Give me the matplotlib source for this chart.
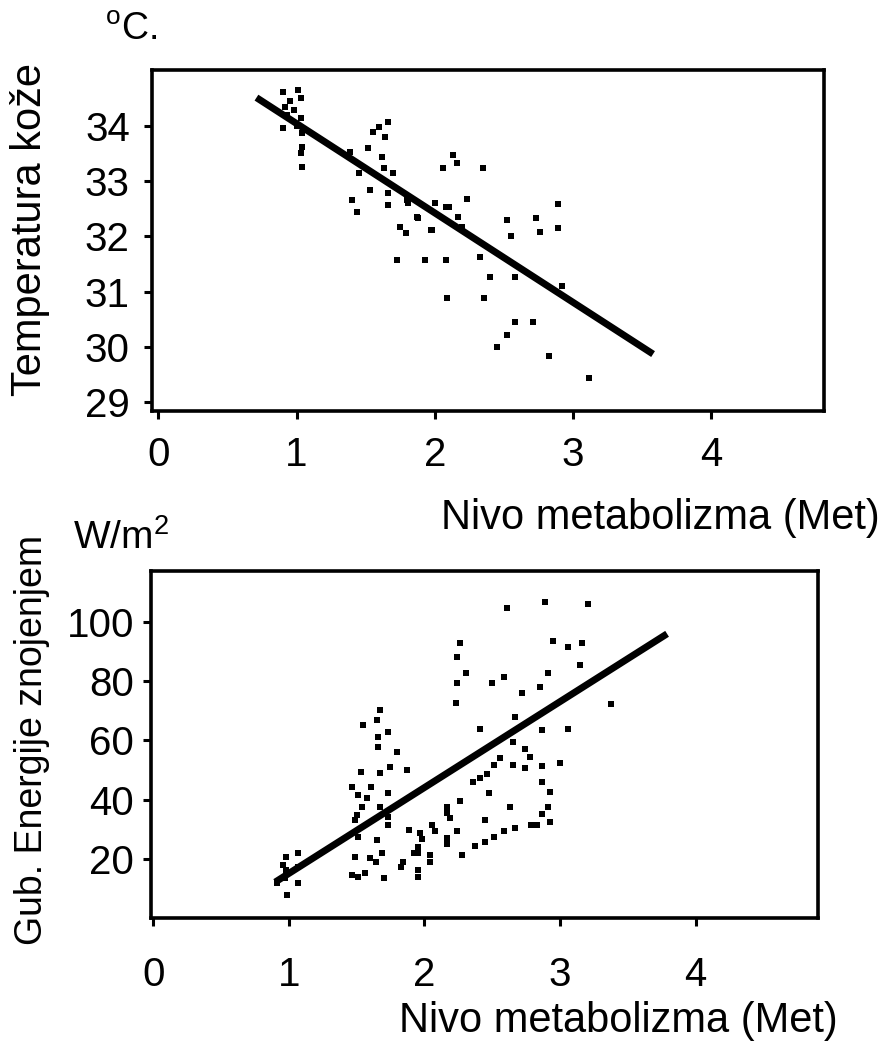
import matplotlib
matplotlib.use("Agg")
import matplotlib.pyplot as plt

plt.rcParams['font.family'] = ['Liberation Sans', 'DejaVu Sans']
plt.rcParams['mathtext.fontset'] = 'custom'
plt.rcParams['mathtext.rm'] = 'Liberation Sans'

# --- top panel: skin temperature vs metabolic rate
temp_met = [0.90, 1.01, 1.03, 0.92, 0.98, 1.03, 0.90, 1.04, 1.04, 1.03, 1.04, 0.95, 0.93, 1.00,
            1.39, 1.52, 1.60, 1.55, 1.66, 1.64, 1.62, 1.63, 1.70, 1.45, 1.53, 1.66, 1.40, 1.44,
            1.66, 1.80, 1.87, 1.75, 1.79, 1.97, 1.73, 1.93,
            2.06, 2.08, 2.09, 2.13, 2.16, 2.35, 2.23, 1.81, 2.00, 2.10, 2.17, 1.88, 1.98, 2.20,
            2.52, 2.55, 2.73, 2.76, 2.89, 2.89, 2.08, 2.33, 2.40, 2.58, 2.92, 2.36, 2.58, 2.71,
            2.52, 2.45, 2.83, 3.12]
temp_skin = [34.62, 34.65, 34.51, 34.34, 34.29, 34.14, 33.96, 33.87, 33.62, 33.51, 33.26, 34.45, 34.20, 34.00,
             33.53, 33.60, 33.98, 33.89, 34.07, 33.80, 33.44, 33.24, 33.15, 33.15, 32.84, 32.79, 32.66, 32.44,
             32.57, 32.66, 32.35, 32.17, 32.06, 32.12, 31.57, 31.57,
             33.24, 32.53, 30.88, 33.47, 33.33, 33.24, 32.68, 32.61, 32.61, 32.53, 32.35, 32.33, 32.12, 32.17,
             32.30, 32.01, 32.33, 32.08, 32.59, 32.15, 31.57, 31.63, 31.26, 31.26, 31.10, 30.88, 30.45, 30.45,
             30.21, 30.00, 29.83, 29.43]
temp_fit_x = [0.71, 3.58]
temp_fit_y = [34.51, 29.87]

# --- bottom panel: evaporative heat loss vs metabolic rate
sweat_met = [0.98, 1.07, 0.98, 1.07, 0.99, 0.91, 0.96, 1.07, 0.97,
             1.67, 1.65, 1.55, 1.73, 1.66, 1.80, 1.87, 1.53, 1.67, 1.47, 1.61, 1.73, 1.51, 1.54,
             1.67, 1.50, 1.73, 1.89, 1.51, 1.65, 1.69, 1.60, 1.49, 1.70, 1.51, 1.47, 1.56, 1.73,
             1.75, 1.66, 1.83, 1.64, 1.58, 1.49,
             2.17, 1.97, 2.06, 2.17, 1.95, 2.04, 1.84, 1.95, 1.92,
             2.61, 2.26, 2.24, 2.31, 2.24, 2.50, 2.59, 2.72, 2.23, 2.67, 2.41, 2.65, 2.74, 2.78,
             2.56, 2.51, 2.65, 2.74, 2.46, 2.41, 2.36, 2.48, 2.26, 2.63, 2.17, 2.45, 2.19, 2.24,
             2.08, 1.98, 2.17, 2.37, 2.45, 2.51, 2.59, 2.67, 2.79, 1.95, 2.28, 2.04, 1.95,
             2.89, 3.21, 2.95, 3.06, 3.16, 3.15, 2.91, 2.85, 3.38, 2.87, 3.06, 2.87, 3.00, 2.87,
             2.93, 2.91, 2.87, 2.93, 2.83]
sweat_loss = [20.7, 22.0, 16.3, 11.9, 7.8, 11.9, 18.0, 17.3, 13.6,
              70.3, 66.9, 65.2, 62.9, 57.8, 56.1, 50.0, 49.4, 49.0, 44.3, 44.3, 42.3, 41.6, 37.6,
              37.6, 34.9, 31.5, 29.8, 27.4, 26.4, 22.0, 20.3, 20.7, 13.6, 13.9, 14.6, 15.3, 34.2,
              51.1, 61.2, 17.3, 19.0, 40.6, 33.2,
              37.6, 28.8, 31.5, 27.1, 24.1, 21.4, 19.0, 16.3, 22.0,
              104.7, 92.9, 88.2, 82.8, 79.4, 79.4, 81.4, 76.0, 72.7, 67.9, 63.9, 59.5, 57.1, 54.4,
              54.1, 51.7, 51.7, 50.7, 48.7, 47.3, 46.0, 42.3, 39.6, 37.6, 35.5, 33.2, 33.8, 29.5,
              29.5, 26.8, 25.1, 24.4, 25.7, 27.4, 29.5, 30.5, 31.5, 22.0, 21.4, 19.0, 13.9,
              106.8, 106.1, 93.6, 91.6, 92.9, 85.5, 82.8, 78.1, 72.3, 63.5, 63.9, 51.4, 52.4, 46.0,
              42.6, 37.6, 35.2, 32.5, 31.5]
sweat_fit_x = [0.90, 3.79]
sweat_fit_y = [12.2, 96.0]

x_ticks = [0, 1, 2, 3, 4]
temp_ticks = [29, 30, 31, 32, 33, 34]
sweat_ticks = [20, 40, 60, 80, 100]

W, H = 885, 1053
fig = plt.figure(figsize=(W / 100, H / 100), dpi=100)

ax1 = fig.add_axes([152 / W, 1 - 411 / H, 672 / W, 341 / H])
ax2 = fig.add_axes([151 / W, 1 - 918 / H, 667 / W, 347 / H])

for ax in (ax1, ax2):
    for s in ax.spines.values():
        s.set_linewidth(2.6)
    ax.tick_params(direction='out', length=6, width=2.2, labelsize=29)
    ax.set_xticks(x_ticks)

ax1.plot(temp_met, temp_skin, 's', color='black', ms=4.3, mew=0)
ax1.plot(temp_fit_x, temp_fit_y, color='black', lw=5, solid_capstyle='butt')
ax1.set_xlim(-0.046, 4.817)
ax1.set_ylim(28.84, 35.01)
ax1.set_yticks(temp_ticks)
ax1.tick_params(axis='x', pad=12)
ax1.tick_params(axis='y', pad=10)

ax2.plot(sweat_met, sweat_loss, 's', color='black', ms=4.3, mew=0)
ax2.plot(sweat_fit_x, sweat_fit_y, color='black', lw=5, solid_capstyle='butt')
ax2.set_xlim(-0.016, 4.903)
ax2.set_ylim(0.08, 117.2)
ax2.set_yticks(sweat_ticks)
ax2.tick_params(axis='x', pad=21)
ax2.tick_params(axis='y', pad=6)

# labels
fig.text(105 / W, 1 - 40 / H, r'$^{\mathrm{o}}$C.', fontsize=27, va='baseline', ha='left')
fig.text(30 / W, 1 - 230 / H, 'Temperatura kože', fontsize=30, rotation=90,
         va='center', ha='center')
fig.text(880 / W, 1 - 529 / H, 'Nivo metabolizma (Met)', fontsize=30,
         va='baseline', ha='right')

fig.text(73 / W, 1 - 549 / H, r'W/m$^{2}$', fontsize=28, va='baseline', ha='left')
fig.text(32 / W, 1 - 740 / H, 'Gub. Energije znojenjem', fontsize=27, rotation=90,
         va='center', ha='center')
fig.text(838 / W, 1 - 1032 / H, 'Nivo metabolizma (Met)', fontsize=30,
         va='baseline', ha='right')

fig.savefig('out.png', dpi=100)
